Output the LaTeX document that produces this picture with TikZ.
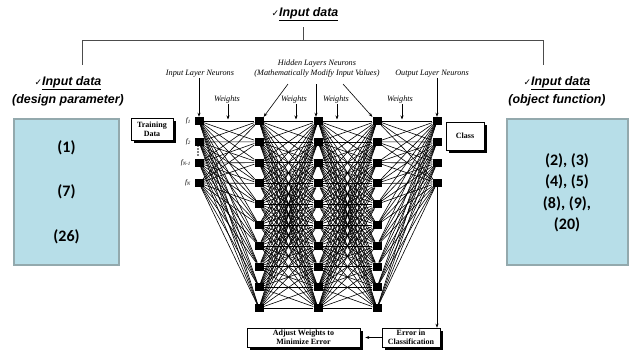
\documentclass[tikz,border=0pt]{standalone}
\usepackage{fontspec}
\setmainfont{Liberation Serif}
\newfontfamily\headfont{Liberation Sans}
\newfontfamily\numfont{Carlito}
\newfontfamily\symfont{DejaVu Sans}
\newcommand\chkmark{{\symfont\fontsize{9}{9}\selectfont ✓}}
\usetikzlibrary{arrows.meta,shadows}
\definecolor{boxfill}{HTML}{B7DEE8}
\definecolor{boxline}{HTML}{93A9AD}
\begin{document}
\begin{tikzpicture}[x=1pt,y=-1pt,
  headtxt/.style={font=\headfont\bfseries\itshape\fontsize{12.4}{14}\selectfont, inner sep=0pt},
  smalllab/.style={font=\itshape\fontsize{8.2}{9.5}\selectfont, inner sep=0pt, align=center},
  flab/.style={font=\itshape\fontsize{7}{8}\selectfont, inner sep=0pt, anchor=east},
  neuron/.style={rectangle, fill=black, minimum width=9pt, minimum height=8pt, inner sep=0pt},
  conn/.style={line width=0.6pt, black},
  arr/.style={line width=0.6pt, -{Stealth[length=4pt,width=3pt]}},
  treeline/.style={line width=0.9pt, black!70},
  shbox/.style={draw, fill=white, line width=0.6pt, align=center, inner sep=1pt,
    font=\bfseries\fontsize{8}{8.8}\selectfont,
    drop shadow={shadow xshift=3pt, shadow yshift=-3pt, opacity=1, fill=black}},
  bluebox/.style={draw=boxline, fill=boxfill, line width=1.5pt},
  numtxt/.style={font=\numfont\bfseries\fontsize{16}{21.5}\selectfont, align=center, inner sep=0pt}
]
\useasboundingbox (0,0) rectangle (630,354);
\fill[white] (0,0) rectangle (630,354);

% ---- header tree
\node[headtxt] (title) at (305,14) {\chkmark\underline{Input data}};
\coordinate (ttop) at (303,27);
\coordinate (tmid) at (303,40);
\coordinate (tl) at (82,65);
\coordinate (tr) at (543,65);
\draw[treeline] (ttop) -- (tmid) -| (tl);
\draw[treeline] (tmid) -| (tr);

\node[headtxt] (lhead) at (68,83) {\chkmark\underline{Input data}};
\node[headtxt] (lsub) at (68,100) {(design parameter)};
\node[headtxt] (rhead) at (557,83) {\chkmark\underline{Input data}};
\node[headtxt] (rsub) at (557,100) {(object function)};

% ---- blue boxes
\node[bluebox, minimum width=105pt, minimum height=146pt] (lbox) at (66.5,192) {};
\node[numtxt] (n1) at (66.5,148) {(1)};
\node[numtxt] (n7) at (66.5,192) {(7)};
\node[numtxt] (n26) at (66.5,237) {(26)};
\node[bluebox, minimum width=121pt, minimum height=146pt] (rbox) at (567.5,192) {};
\node[numtxt] (rtxt) at (567,193) {(2), (3)\\(4), (5)\\(8), (9),\\(20)};

% ---- neurons
\foreach \i/\y in {1/121,2/142,3/163,4/183}{
  \node[neuron] (in\i) at (199,\y) {};
  \node[neuron] (out\i) at (437,\y) {};
}
\foreach \i in {1,...,10}{
  \pgfmathsetmacro{\yy}{121+(\i-1)*20.8}
  \node[neuron] (ha\i) at (259,\yy) {};
  \node[neuron] (hb\i) at (318,\yy) {};
  \node[neuron] (hc\i) at (377,\yy) {};
}

% ---- connections
\foreach \i in {1,...,4}{
  \foreach \j in {1,...,10}{
    \draw[conn] (in\i) -- (ha\j);
    \draw[conn] (hc\j) -- (out\i);
  }
}
\foreach \i in {1,...,10}{
  \foreach \j in {1,...,10}{
    \draw[conn] (ha\i) -- (hb\j);
    \draw[conn] (hb\i) -- (hc\j);
  }
}

% ---- f labels and dots
\node[flab] (f1) at (191,121) {f\textsubscript{1}};
\node[flab] (f2) at (191,142) {f\textsubscript{2}};
\node[flab] (f3) at (191,163) {f\textsubscript{N-1}};
\node[flab] (f4) at (191,183) {f\textsubscript{N}};
\foreach \y in {146,149,152,155}{ \fill (198,\y) circle (0.9); }

% ---- top labels
\node[smalllab] (lin) at (200,74) {Input Layer Neurons};
\node[smalllab] (lhid) at (317,68.5) {Hidden Layers Neurons\\(Mathematically Modify Input Values)};
\node[smalllab] (lout) at (432,74) {Output Layer Neurons};
\draw[arr] (lin.south -| in1) -- (in1.north);
\draw[arr] (lout.south -| out1) -- (out1.north);
\coordinate (hs1) at (288,84);
\coordinate (hs2) at (316,84);
\coordinate (hs3) at (343,84);
\draw[arr] (hs1) -- (ha1.north east);
\draw[arr] (hs2) -- (hs2 |- hb1.north);
\draw[arr] (hs3) -- (hc1.north west);

\node[smalllab] (w1) at (227,100) {Weights};
\node[smalllab] (w2) at (294,100) {Weights};
\node[smalllab] (w3) at (336,100) {Weights};
\node[smalllab] (w4) at (400,100) {Weights};
\foreach \k/\xx in {1/228,2/296,3/337,4/402}{
  \coordinate (we\k) at (\xx,119.5);
  \draw[arr] (we\k |- w\k.south) -- (we\k);
}

% ---- boxes
\node[shbox, minimum width=42pt, minimum height=22pt] (train) at (152,129) {Training\\Data};
\node[shbox, minimum width=38pt, minimum height=28pt] (class) at (465,136) {Class};
\node[shbox, minimum width=58pt, minimum height=19pt] (err) at (411,337.5) {Error in\\Classification};
\node[shbox, minimum width=113pt, minimum height=19pt] (adj) at (303.5,337.5) {Adjust Weights to\\Minimize Error};

\draw[arr] (out4.south) -- (out4 |- err.north);
\draw[arr] (err.west) -- ([xshift=5pt]adj.east);
\end{tikzpicture}
\end{document}
